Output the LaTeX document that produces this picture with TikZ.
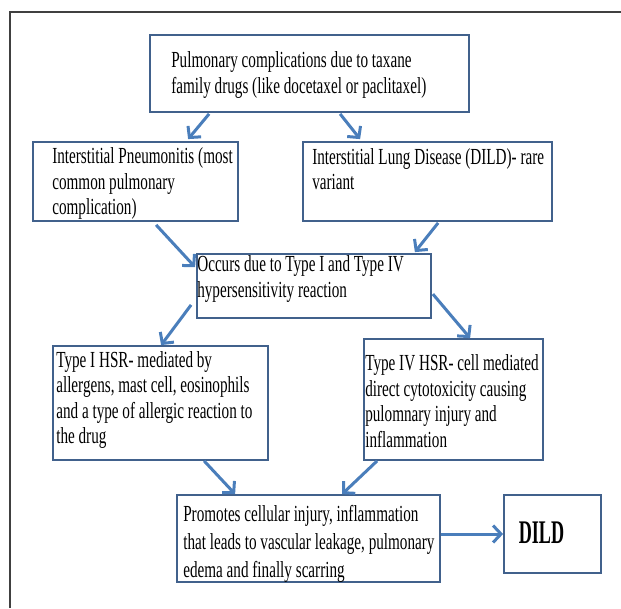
\documentclass[tikz,border=0pt]{standalone}
\usepackage{fontspec}
\usetikzlibrary{arrows.meta,calc}
\newfontfamily\bodyfont[FakeStretch=0.66]{Liberation Serif}
\newfontfamily\dildfont[FakeStretch=0.55]{Liberation Serif}
\definecolor{framecol}{HTML}{404040}
\definecolor{boxcol}{HTML}{41618C}
\definecolor{arrcol}{HTML}{4A7EBB}
\tikzset{
  box/.style={draw=boxcol, line width=1.8pt, rectangle, inner sep=0pt, fill=white},
  txt/.style={inner sep=0pt, align=left, anchor=west, font=\bodyfont\fontsize{23}{25.5}\selectfont},
  arr/.style={draw=arrcol, line width=3pt, -{Straight Barb[length=8pt,width=17pt]}}
}
\begin{document}
\begin{tikzpicture}[x=1pt,y=-1pt]
\useasboundingbox (0,0) rectangle (621,608);
\draw[framecol, line width=2.2pt] (10,608) -- (10,12) -- (621,12);
% boxes
\node[box, minimum width=319pt, minimum height=77pt] (top) at (309.5,73.5) {};
\node[box, minimum width=205pt, minimum height=79pt] (ip) at (135.5,181.5) {};
\node[box, minimum width=249pt, minimum height=79pt] (ild) at (427.5,181.5) {};
\node[box, minimum width=234pt, minimum height=64pt] (occ) at (314,286) {};
\node[box, minimum width=215pt, minimum height=114pt] (t1) at (160.5,403) {};
\node[box, minimum width=179pt, minimum height=121pt] (t4) at (453.5,399.5) {};
\node[box, minimum width=263pt, minimum height=87pt] (pro) at (308.5,538.5) {};
\node[box, minimum width=97pt, minimum height=78pt] (dild) at (552.5,534) {};
% texts
\node[txt] (topt) at ($(top.west)+(22,1.5)$) {Pulmonary complications due to taxane\\family drugs (like docetaxel or paclitaxel)};
\node[txt] (ipt) at ($(ip.west)+(20,2)$) {Interstitial Pneumonitis (most\\common pulmonary\\complication)};
\node[txt] (ildt) at ($(ild.west)+(10,-12.5)$) {Interstitial Lung Disease (DILD)- rare\\variant};
\node[txt] (occt) at ($(occ.west)+(1,-7)$) {Occurs due to Type I and Type IV\\hypersensitivity reaction};
\node[txt] (t1t) at ($(t1.west)+(4,-3)$) {Type I HSR- mediated by\\allergens, mast cell, eosinophils\\and a type of allergic reaction to\\the drug};
\node[txt] (t4t) at ($(t4.west)+(2,1.5)$) {Type IV HSR- cell mediated\\direct cytotoxicity causing\\pulomnary injury and\\inflammation};
\node[txt, font=\bodyfont\fontsize{23}{28}\selectfont] (prot) at ($(pro.west)+(7,5)$) {Promotes cellular injury, inflammation\\that leads to vascular leakage, pulmonary\\edema and finally scarring};
\node[inner sep=0pt, font=\dildfont\bfseries\fontsize{33}{33}\selectfont] (dildt) at ($(dild.center)+(-11,-1)$) {DILD};
% arrows
\draw[arr] ($(top.south west)+(60,1)$) -- ($(ip.north west)+(156,-2)$);
\draw[arr] ($(top.south west)+(191,1)$) -- ($(ild.north west)+(58,-2)$);
\draw[arr] ($(ip.south west)+(124,3)$) -- ($(occ.north west)+(-1,14)$);
\draw[arr] ($(ild.south west)+(136,1)$) -- ($(occ.north east)+(-17,-1)$);
\draw[arr] ($(occ.south west)+(-5,-14)$) -- ($(t1.north west)+(109,0)$);
\draw[arr] ($(occ.north east)+(1,41)$) -- ($(t4.north west)+(107,0)$);
\draw[arr] ($(t1.south west)+(152,0)$) -- ($(pro.north west)+(59,0)$);
\draw[arr] ($(t4.south west)+(14,0)$) -- ($(pro.north west)+(166,0)$);
\draw[arr] (pro.east |- dild.west) -- (dild.west);
\end{tikzpicture}
\end{document}
